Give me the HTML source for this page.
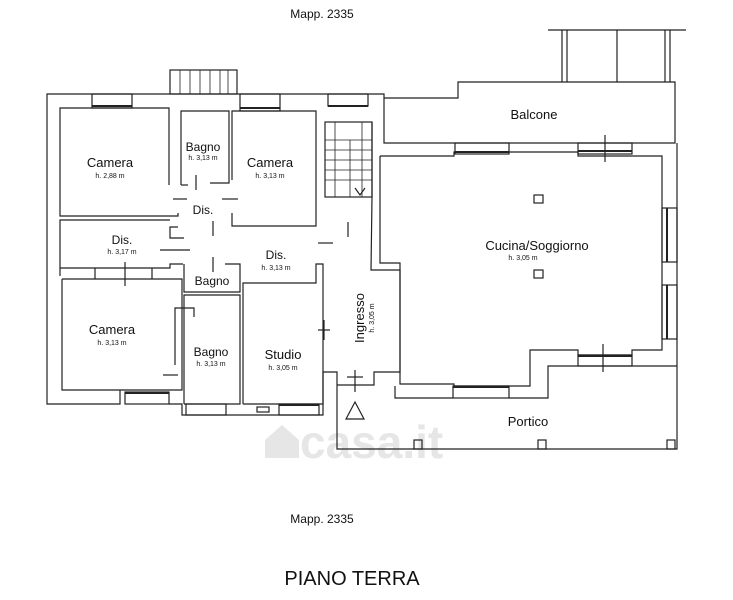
<!DOCTYPE html>
<html><head><meta charset="utf-8"><style>
html,body{margin:0;padding:0;background:#fff;}
svg{display:block;font-family:"Liberation Sans",Arial,sans-serif;}
</style></head><body>
<svg width="733" height="600" viewBox="0 0 733 600" xmlns="http://www.w3.org/2000/svg">
<rect width="733" height="600" fill="#fff"/>
<text x="300" y="458" font-size="46" fill="#e6e6e6" font-weight="bold">casa.it</text>
<path d="M265 440 L282 425 L299 440 L299 458 L265 458 Z" fill="#e6e6e6"/>
<g fill="none" stroke="#222" stroke-width="1.2">
<polyline points="384,98 384,94 47,94 47,404 120,404 120,390"/>
<polyline points="169,404 182,404 182,415 323,415 323,372 337,372 337,449 677,449 677,143"/>
<rect x="170" y="70" width="67" height="24"/>
<g stroke-width="0.8"><line x1="180" y1="70" x2="180" y2="94"/><line x1="190" y1="70" x2="190" y2="94"/><line x1="200" y1="70" x2="200" y2="94"/><line x1="210" y1="70" x2="210" y2="94"/><line x1="220" y1="70" x2="220" y2="94"/><line x1="228" y1="70" x2="228" y2="94"/></g>
<rect x="92" y="94" width="40" height="14"/><line x1="92" y1="106" x2="132" y2="106" stroke-width="2"/>
<rect x="240" y="94" width="40" height="17"/><line x1="240" y1="108" x2="280" y2="108" stroke-width="2"/>
<rect x="328" y="94" width="40" height="12"/><line x1="328" y1="106" x2="368" y2="106" stroke-width="2"/>
<polyline points="169,185 169,108 60,108 60,216 178,216 178,213"/>
<polyline points="181,185 181,111 229,111 229,183 210,183"/>
<polyline points="188,185 181,185"/>
<polyline points="232,213 232,226 316,226 316,111 232,111 232,180"/>
<rect x="325" y="122" width="47" height="75"/>
<g stroke-width="0.8"><line x1="325" y1="140" x2="372" y2="140"/><line x1="325" y1="150" x2="372" y2="150"/><line x1="325" y1="160" x2="372" y2="160"/><line x1="325" y1="170" x2="372" y2="170"/><line x1="325" y1="180" x2="372" y2="180"/><line x1="335" y1="122" x2="335" y2="197"/><line x1="350" y1="140" x2="350" y2="197"/><line x1="362" y1="122" x2="362" y2="197"/><line x1="335" y1="122" x2="362" y2="122"/></g>
<polyline points="355,188 360,195 365,188"/>
<polyline points="170,220 60,220 60,268 170,268 170,264 183,264"/>
<polyline points="178,227 170,227 170,238 184,238"/>
<polyline points="184,264 184,292 240,292 240,264 225,264"/>
<polyline points="60,268 60,276"/><line x1="95" y1="268" x2="95" y2="279"/><line x1="152" y1="268" x2="152" y2="279"/><line x1="125" y1="262" x2="125" y2="286" />
<polyline points="62,279 182,279 182,390 62,390 62,279"/>
<polyline points="184,404 184,295 240,295 240,404 184,404"/>
<polyline points="175,365 175,308 194,308 194,317"/>
<polyline points="243,404 243,283 316,283 316,264 323,264 323,404 243,404"/>
<line x1="318" y1="330" x2="330" y2="330"/><line x1="324" y1="320" x2="324" y2="340"/>
<line x1="355" y1="370" x2="355" y2="392"/><line x1="347" y1="377" x2="363" y2="377"/>
<rect x="125" y="392" width="44" height="12"/><line x1="125" y1="393" x2="169" y2="393" stroke-width="2"/>
<rect x="279" y="404" width="40" height="11"/><line x1="279" y1="405" x2="319" y2="405" stroke-width="2"/>
<rect x="186" y="404" width="40" height="11"/>
<rect x="257" y="407" width="12" height="5"/>
<line x1="196" y1="175" x2="196" y2="190"/><line x1="173" y1="199" x2="187" y2="199"/><line x1="222" y1="199" x2="238" y2="199"/>
<line x1="213" y1="221" x2="213" y2="236"/><line x1="160" y1="250" x2="190" y2="250"/><line x1="213" y1="257" x2="213" y2="272"/>
<line x1="348" y1="222" x2="348" y2="237"/><line x1="318" y1="243" x2="333" y2="243"/><line x1="163" y1="375" x2="178" y2="375"/>
<polyline points="372,122 372,197 371,270 400,270 400,372 374,372 374,385 337,385"/>
<polyline points="384,98 384,143 675,143 675,82 458,82 458,98 384,98"/>
<line x1="548" y1="30" x2="686" y2="30"/>
<line x1="562" y1="30" x2="562" y2="82"/><line x1="567" y1="30" x2="567" y2="82"/><line x1="617" y1="30" x2="617" y2="82"/><line x1="665" y1="30" x2="665" y2="82"/><line x1="670" y1="30" x2="670" y2="82"/>
<polyline points="380,156 454,156 454,152 578,152 578,156 662,156 662,350 632,350 632,355 578,355 578,350 530,350 530,386 454,386 454,384 400,384 400,263 380,263 380,156"/>
<rect x="455" y="143" width="54" height="11"/><line x1="455" y1="152" x2="509" y2="152" stroke-width="2"/>
<rect x="578" y="143" width="54" height="11"/><line x1="578" y1="151" x2="632" y2="151" stroke-width="2"/>
<line x1="605" y1="135" x2="605" y2="162"/>
<rect x="662" y="208" width="15" height="54"/><line x1="667" y1="208" x2="667" y2="262" stroke-width="2"/>
<rect x="662" y="285" width="15" height="54"/><line x1="667" y1="285" x2="667" y2="339" stroke-width="2"/>
<rect x="578" y="355" width="54" height="11"/><line x1="578" y1="356" x2="632" y2="356" stroke-width="2"/>
<line x1="603" y1="344" x2="603" y2="372"/>
<rect x="453" y="386" width="56" height="12"/><line x1="453" y1="387" x2="509" y2="387" stroke-width="2"/>
<polyline points="395,386 395,398 453,398"/>
<polyline points="509,398 548,398 548,366 677,366"/>
<rect x="534" y="195" width="9" height="8"/><rect x="534" y="270" width="9" height="8"/>
<polygon points="355,402 346,419 364,419"/>
<rect x="414" y="440" width="8" height="9"/><rect x="538" y="440" width="8" height="9"/><rect x="667" y="440" width="8" height="9"/>
</g>
<g fill="#111" text-anchor="middle">
<text x="322" y="18" font-size="12">Mapp. 2335</text>
<text x="322" y="523" font-size="12">Mapp. 2335</text>
<text x="352" y="585" font-size="20">PIANO TERRA</text>
<text x="110" y="167" font-size="13">Camera</text><text x="110" y="178" font-size="7">h. 2,88 m</text>
<text x="203" y="151" font-size="12">Bagno</text><text x="203" y="160" font-size="7">h. 3,13 m</text>
<text x="270" y="167" font-size="13">Camera</text><text x="270" y="178" font-size="7">h. 3,13 m</text>
<text x="203" y="214" font-size="12">Dis.</text>
<text x="122" y="244" font-size="12">Dis.</text><text x="122" y="254" font-size="7">h. 3,17 m</text>
<text x="276" y="259" font-size="12">Dis.</text><text x="276" y="270" font-size="7">h. 3,13 m</text>
<text x="212" y="285" font-size="12">Bagno</text>
<text x="112" y="334" font-size="13">Camera</text><text x="112" y="345" font-size="7">h. 3,13 m</text>
<text x="211" y="356" font-size="12">Bagno</text><text x="211" y="366" font-size="7">h. 3,13 m</text>
<text x="283" y="359" font-size="13">Studio</text><text x="283" y="370" font-size="7">h. 3,05 m</text>
<text x="364" y="318" font-size="13" transform="rotate(-90 364 318)">Ingresso</text>
<text x="374" y="318" font-size="7" transform="rotate(-90 374 318)">h. 3,05 m</text>
<text x="537" y="250" font-size="13">Cucina/Soggiorno</text><text x="523" y="260" font-size="7">h. 3,05 m</text>
<text x="534" y="119" font-size="13">Balcone</text>
<text x="528" y="426" font-size="13">Portico</text>
</g>
</svg>
</body></html>
